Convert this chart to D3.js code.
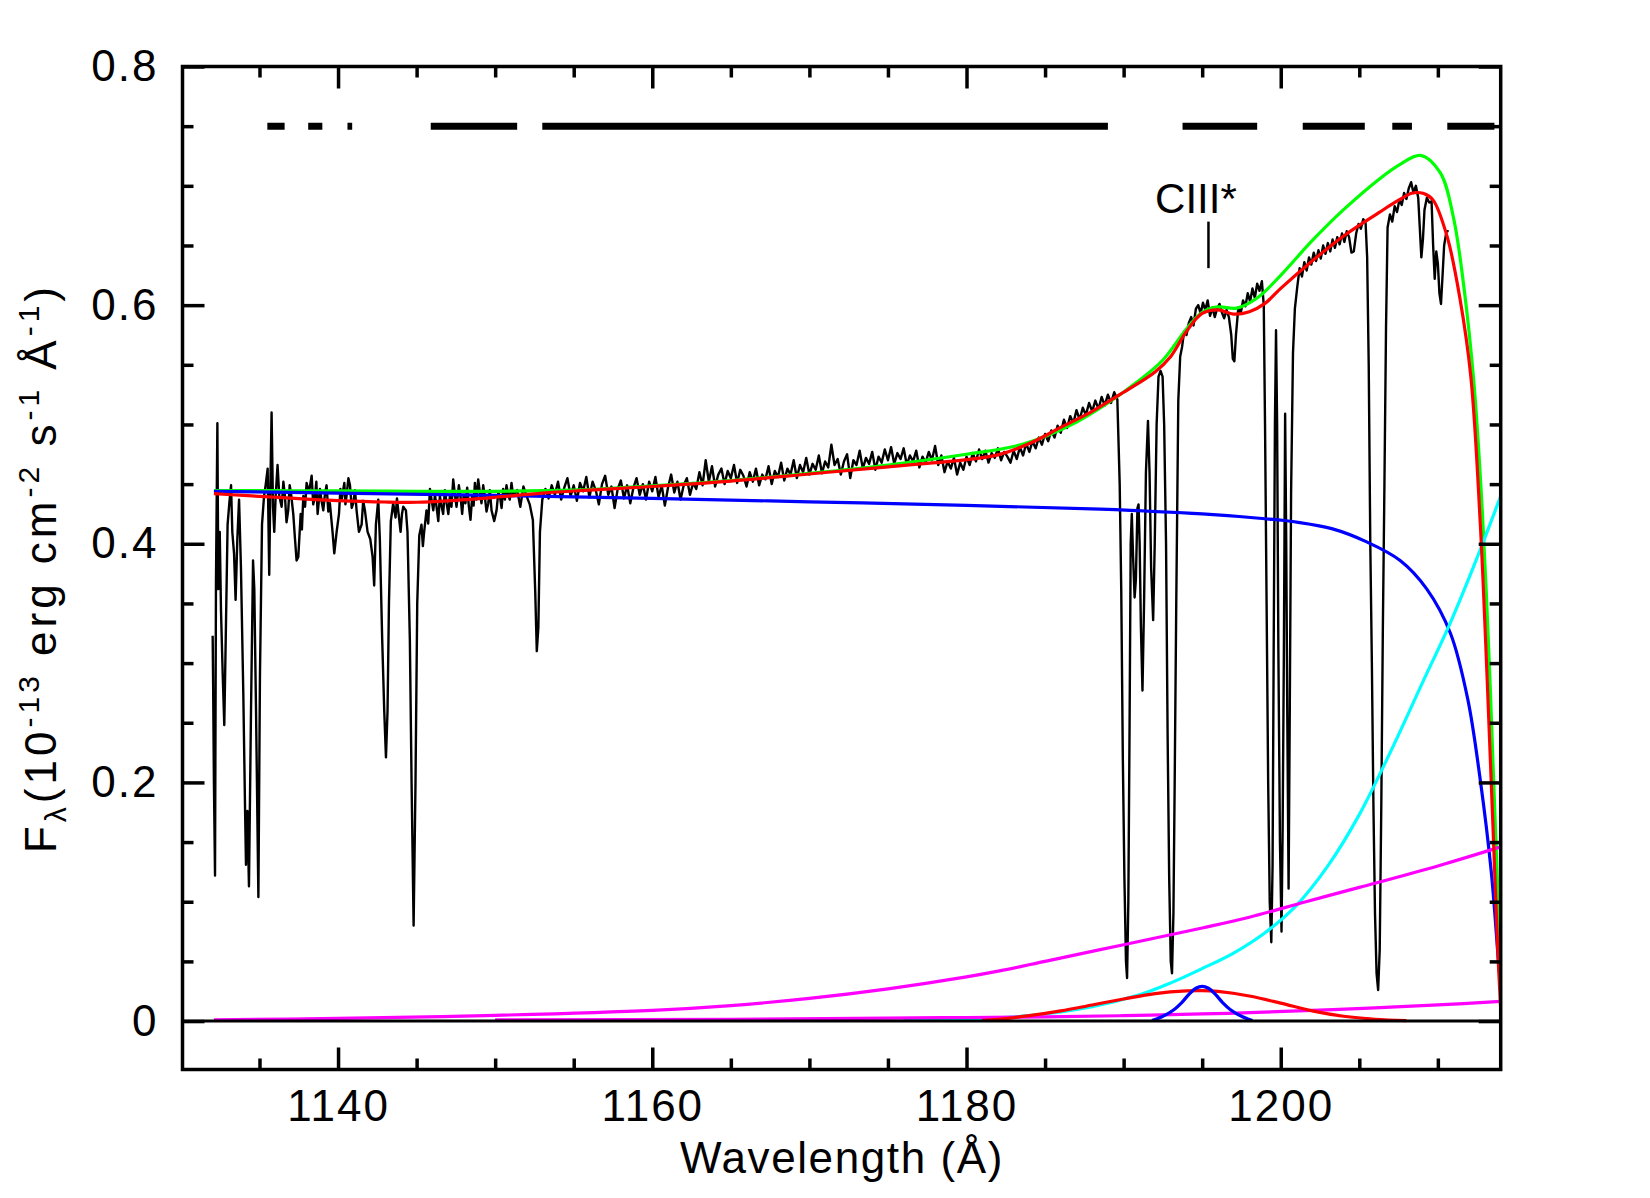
<!DOCTYPE html>
<html>
<head>
<meta charset="utf-8">
<script src="https://cdn.jsdelivr.net/npm/d3@7"></script>
<style>
  body { margin: 0; background: #fff; }
  svg { display: block; }
</style>
</head>
<body>
<div id="chart"></div>
<script>
// observed spectrum [wavelength (A), flux]
const spectrum = [
  [1132.02,.323],[1132.05,.281],[1132.10,.20],[1132.17,.122],[1132.23,.368],[1132.32,.501],[1132.38,.362],[1132.47,.41],
  [1132.55,.344],[1132.66,.29],[1132.76,.248],[1132.87,.335],[1132.97,.416],[1133.08,.434],[1133.19,.449],[1133.27,.41],
  [1133.38,.392],[1133.48,.353],[1133.59,.404],[1133.70,.437],[1133.82,.38],[1133.97,.275],[1134.08,.179],[1134.14,.131],
  [1134.23,.176],[1134.33,.113],[1134.46,.26],[1134.59,.386],[1134.67,.362],[1134.78,.26],[1134.93,.104],[1135.03,.29],
  [1135.16,.416],[1135.29,.44],[1135.39,.449],[1135.52,.463],[1135.62,.374],[1135.69,.446],[1135.77,.51],[1135.86,.431],
  [1135.94,.41],[1136.03,.44],[1136.15,.466],[1136.26,.44],[1136.41,.431],[1136.52,.452],[1136.62,.44],[1136.72,.418],
  [1136.83,.428],[1136.92,.449],[1137.00,.443],[1137.15,.425],[1137.26,.404],[1137.36,.386],[1137.47,.389],[1137.62,.425],
  [1137.70,.412],[1137.79,.44],[1137.90,.431],[1138.00,.451],[1138.15,.443],[1138.32,.457],[1138.42,.433],[1138.53,.44],
  [1138.62,.452],[1138.70,.425],[1138.85,.446],[1138.95,.436],[1139.06,.428],[1139.17,.442],[1139.27,.449],[1139.38,.427],
  [1139.48,.434],[1139.65,.41],[1139.76,.392],[1139.91,.41],[1140.06,.425],[1140.15,.446],[1140.23,.437],[1140.40,.451],
  [1140.47,.433],[1140.54,.44],[1140.66,.455],[1140.76,.449],[1140.87,.430],[1140.97,.434],[1141.08,.445],[1141.18,.428],
  [1141.33,.41],[1141.50,.416],[1141.60,.436],[1141.71,.428],[1141.88,.41],[1142.05,.404],[1142.20,.389],[1142.30,.365],
  [1142.41,.416],[1142.56,.437],[1142.66,.404],[1142.81,.32],[1142.94,.26],[1143.05,.221],[1143.15,.26],[1143.24,.35],
  [1143.36,.419],[1143.51,.434],[1143.66,.422],[1143.75,.438],[1143.83,.428],[1143.98,.41],[1144.07,.425],[1144.15,.431],
  [1144.32,.428],[1144.42,.41],[1144.57,.32],[1144.68,.2],[1144.81,.08],[1144.93,.2],[1145.04,.35],[1145.17,.407],
  [1145.31,.416],[1145.40,.398],[1145.48,.41],[1145.63,.428],[1145.74,.417],[1145.85,.446],[1145.95,.437],[1146.06,.428],
  [1146.17,.441],[1146.27,.431],[1146.38,.419],[1146.48,.44],[1146.58,.432],[1146.69,.425],[1146.80,.445],[1146.91,.434],
  [1147.02,.425],[1147.12,.44],[1147.22,.431],[1147.33,.454],[1147.43,.442],[1147.54,.431],[1147.69,.449],[1147.80,.439],
  [1147.90,.425],[1148.00,.441],[1148.11,.434],[1148.22,.447],[1148.33,.431],[1148.43,.420],[1148.54,.44],[1148.63,.432],
  [1148.71,.451],[1148.81,.437],[1148.92,.454],[1149.03,.443],[1149.13,.434],[1149.24,.449],[1149.34,.44],[1149.45,.427],
  [1149.56,.434],[1149.66,.445],[1149.77,.428],[1149.94,.419],[1150.09,.428],[1150.20,.443],[1150.30,.44],[1150.41,.430],
  [1150.51,.446],[1150.62,.437],[1150.72,.449],[1150.83,.441],[1150.93,.437],[1151.04,.451],[1151.15,.44],
  [1151.4,.445],[1151.6,.431],[1151.8,.448],[1152.0,.440],[1152.2,.433],[1152.4,.42],[1152.55,.36],[1152.65,.31],
  [1152.75,.33],[1152.85,.41],[1153.0,.437],
  [1153.2,.446],[1153.4,.438],[1153.6,.449],[1153.8,.441],[1154.0,.452],[1154.2,.437],[1154.4,.447],[1154.6,.455],
  [1154.8,.440],[1155.0,.449],[1155.2,.436],[1155.4,.451],[1155.6,.444],[1155.8,.456],[1156.0,.439],[1156.2,.452],
  [1156.4,.445],[1156.6,.433],[1156.8,.450],[1157.0,.457],[1157.2,.441],[1157.4,.448],[1157.6,.430],[1157.8,.446],
  [1158.0,.453],[1158.2,.438],[1158.4,.449],[1158.6,.434],[1158.8,.447],[1159.0,.455],[1159.2,.441],[1159.4,.450],
  [1159.6,.437],[1159.8,.452],[1160.0,.444],[1160.2,.456],[1160.4,.439],[1160.6,.449],[1160.8,.432],[1161.0,.447],
  [1161.2,.458],[1161.4,.443],[1161.6,.452],[1161.8,.437],[1162.0,.449],[1162.2,.455],[1162.4,.441],[1162.6,.451],
  [1162.8,.446],[1163.0,.460],[1163.2,.449],[1163.4,.470],[1163.6,.452],[1163.8,.465],[1164.0,.448],[1164.2,.458],
  [1164.4,.463],[1164.6,.450],[1164.8,.461],[1165.0,.455],[1165.2,.466],[1165.4,.451],[1165.6,.462],[1165.8,.457],
  [1166.0,.448],[1166.2,.460],[1166.4,.452],[1166.6,.463],[1166.8,.449],[1167.0,.458],[1167.2,.454],[1167.4,.465],
  [1167.6,.450],[1167.8,.461],[1168.0,.456],[1168.2,.468],[1168.4,.453],[1168.6,.463],[1168.8,.458],[1169.0,.470],
  [1169.2,.455],[1169.4,.466],[1169.6,.460],[1169.8,.472],[1170.0,.458],[1170.2,.467],[1170.4,.462],[1170.6,.474],
  [1170.8,.459],[1171.0,.469],[1171.2,.464],[1171.4,.483],[1171.6,.466],[1171.8,.471],[1172.0,.458],[1172.2,.469],
  [1172.4,.475],[1172.6,.455],[1172.8,.470],[1173.0,.466],[1173.2,.478],[1173.4,.463],[1173.6,.472],[1173.8,.467],
  [1174.0,.477],[1174.2,.462],[1174.4,.473],[1174.6,.468],[1174.8,.479],[1175.0,.470],[1175.2,.481],[1175.4,.467],
  [1175.6,.476],[1175.8,.471],[1176.0,.480],[1176.2,.466],[1176.4,.474],[1176.6,.469],[1176.8,.478],[1177.0,.464],
  [1177.2,.473],[1177.4,.468],[1177.6,.477],[1177.8,.470],[1178.0,.482],[1178.2,.466],[1178.4,.474],[1178.6,.460],
  [1178.8,.469],[1179.0,.463],[1179.2,.472],[1179.4,.458],[1179.6,.468],[1179.8,.462],[1180.0,.473],[1180.2,.466],
  [1180.4,.476],[1180.6,.469],[1180.8,.479],[1181.0,.471],[1181.2,.478],[1181.4,.468],[1181.6,.476],[1181.8,.472],
  [1182.0,.480],[1182.2,.470],[1182.4,.477],[1182.6,.473],[1182.8,.468],[1183.0,.478],[1183.2,.471],[1183.4,.481],
  [1183.6,.474],[1183.8,.484],[1184.0,.477],[1184.2,.486],[1184.4,.480],[1184.6,.489],[1184.8,.483],[1185.0,.492],
  [1185.2,.486],[1185.4,.495],[1185.6,.489],[1185.8,.499],[1186.0,.493],[1186.2,.504],[1186.4,.497],[1186.6,.507],
  [1186.8,.501],[1187.0,.512],[1187.2,.504],[1187.4,.514],[1187.6,.508],[1187.8,.518],[1188.0,.511],[1188.2,.520],
  [1188.4,.513],[1188.6,.523],[1188.8,.516],[1189.0,.525],[1189.2,.518],[1189.4,.527],[1189.6,.521],
  [1189.75,.45],[1189.85,.36],[1189.95,.22],[1190.05,.12],[1190.15,.05],[1190.22,.036],[1190.30,.10],[1190.38,.25],
  [1190.45,.40],[1190.52,.425],[1190.60,.39],[1190.70,.355],[1190.78,.37],[1190.88,.43],[1190.95,.433],[1191.02,.40],
  [1191.10,.33],[1191.20,.277],[1191.30,.35],[1191.42,.46],[1191.55,.503],[1191.65,.46],[1191.75,.38],[1191.88,.336],
  [1191.98,.40],[1192.10,.50],[1192.22,.540],[1192.35,.545],[1192.48,.540],[1192.58,.500],[1192.70,.40],[1192.80,.24],
  [1192.90,.12],[1193.00,.05],[1193.08,.04],[1193.17,.09],[1193.25,.20],[1193.35,.35],[1193.48,.52],[1193.60,.557],
  [1193.72,.565],[1193.85,.578],[1194.00,.575],[1194.15,.585],[1194.30,.590],[1194.45,.583],[1194.60,.597],[1194.75,.600],
  [1194.90,.593],[1195.05,.602],[1195.20,.596],[1195.35,.604],[1195.50,.591],[1195.65,.598],[1195.80,.590],[1195.95,.597],
  [1196.10,.601],[1196.25,.594],[1196.40,.589],[1196.55,.596],[1196.70,.590],[1196.85,.575],[1196.95,.555],[1197.05,.553],
  [1197.15,.575],[1197.30,.598],[1197.45,.593],[1197.60,.604],[1197.75,.599],[1197.90,.610],[1198.05,.603],[1198.20,.614],
  [1198.35,.606],[1198.50,.618],[1198.65,.612],[1198.80,.620],[1198.92,.60],[1199.00,.50],[1199.10,.35],[1199.20,.20],
  [1199.30,.10],[1199.40,.066],[1199.48,.13],[1199.55,.31],[1199.63,.50],[1199.70,.579],[1199.77,.50],[1199.85,.31],
  [1199.95,.15],[1200.05,.075],[1200.12,.16],[1200.20,.31],[1200.28,.509],[1200.35,.40],[1200.42,.25],[1200.50,.111],
  [1200.57,.25],[1200.66,.444],[1200.78,.56],[1200.90,.597],[1201.05,.615],[1201.20,.631],[1201.35,.624],[1201.50,.636],
  [1201.65,.629],[1201.80,.640],[1201.95,.634],[1202.10,.644],[1202.25,.637],[1202.40,.646],[1202.55,.639],[1202.70,.650],
  [1202.85,.643],[1203.00,.652],[1203.15,.645],[1203.30,.655],[1203.45,.648],[1203.60,.657],[1203.75,.651],[1203.90,.660],
  [1204.05,.653],[1204.20,.662],[1204.35,.657],[1204.50,.644],[1204.65,.645],[1204.80,.660],[1204.95,.668],[1205.10,.664],
  [1205.25,.672],[1205.40,.669],[1205.50,.640],[1205.60,.55],[1205.70,.40],[1205.80,.30],[1205.90,.18],[1206.00,.09],
  [1206.10,.04],[1206.20,.026],[1206.30,.06],[1206.40,.18],[1206.50,.33],[1206.60,.45],[1206.70,.58],[1206.80,.665],
  [1206.95,.676],[1207.10,.670],[1207.25,.683],[1207.40,.678],[1207.55,.688],[1207.70,.684],[1207.85,.694],[1208.00,.689],
  [1208.15,.698],[1208.30,.703],[1208.45,.694],[1208.60,.700],[1208.75,.690],[1208.85,.665],[1208.95,.640],[1209.05,.655],
  [1209.15,.680],[1209.30,.690],[1209.45,.686],[1209.60,.687],[1209.70,.650],[1209.80,.622],[1209.90,.645],[1210.00,.635],
  [1210.10,.610],[1210.20,.601],[1210.30,.625],[1210.40,.650],[1210.55,.662],[1210.69,.662]
];

// model components [wavelength, flux]
const totalModel = [
  [1132.1,.4420],[1134,.4405],[1136,.4390],[1138,.4375],[1140,.4362],[1143,.4350],[1145,.4348],[1147,.4360],
  [1150,.4390],[1153,.4425],[1156,.4450],[1160,.4480],[1165,.4525],[1170,.4585],[1175,.4645],[1180,.4705],
  [1182,.4745],[1184,.4840],[1186,.4975],[1188,.5110],[1190,.5270],[1192,.5440],[1193,.5570],[1194,.5780],
  [1195,.5930],[1196,.5960],[1197,.5925],[1198,.5945],[1199,.6015],[1200,.6140],[1202,.6370],[1204,.6580],
  [1206.3,.6780],[1207.5,.6880],[1208.4,.6940],[1209.1,.6935],[1209.7,.6880],[1210.6,.6570],[1211.4,.6060],
  [1212.1,.5400],[1212.7,.4170],[1213.15,.2830],[1213.5,.1660],[1213.8,.0630],[1214.0,.0100]
];
const unabsorbedModel = [
  [1132.1,.4445],[1136,.4445],[1140,.4443],[1145,.4440],[1150,.4440],[1153,.4445],[1156,.4455],[1160,.4485],
  [1165,.4530],[1170,.4590],[1175,.4660],[1180,.4750],[1183,.4815],[1185,.4900],[1187,.5020],[1189,.5180],
  [1191,.5370],[1192.5,.5540],[1194,.5800],[1195,.5940],[1196,.5985],[1197.2,.5975],[1198.5,.6060],[1200,.6250],
  [1202,.6540],[1204,.6800],[1206.3,.7060],[1207.6,.7180],[1208.9,.7255],[1210.15,.7110],[1211.0,.6730],
  [1211.65,.6160],[1212.3,.5340],[1212.83,.4270],[1213.26,.3040],[1213.58,.1910],[1213.8,.1140],[1214.0,.0400]
];
const powerLaw = [
  [1132.1,.4440],[1140,.4425],[1150,.4405],[1160,.4380],[1170,.4352],[1180,.4322],[1188.5,.4290],[1195,.4250],
  [1199,.4210],[1201.1,.4180],[1203.3,.4125],[1205.4,.4020],[1207.6,.3860],[1209.3,.3620],[1210.8,.3250],
  [1211.9,.2700],[1212.7,.2020],[1213.4,.1250],[1213.9,.0430],[1214.0,.0300]
];
const hotComponent = [
  [1176,.0005],[1180,.0015],[1184,.0045],[1188,.0120],[1191,.0220],[1193,.0320],[1195,.0440],[1197,.0570],
  [1199,.0740],[1201,.0970],[1203,.1300],[1205,.1730],[1207,.2260],[1209,.2830],[1210.8,.3340],[1212.4,.3850],
  [1214.0,.4400]
];
const warmComponent = [
  [1132.1,.0010],[1140,.0022],[1150,.0048],[1160,.0090],[1165,.0130],[1170,.0190],[1175,.0270],[1180,.0370],
  [1182.1,.0420],[1185,.0500],[1190,.0640],[1195,.0780],[1198,.0870],[1201.6,.1000],[1205,.1120],[1210,.1300],
  [1214,.1460]
];
const weakComponent = [
  [1150,.0010],[1165,.0015],[1175,.0025],[1180,.0030],[1185,.0035],[1190,.0045],[1195,.0060],[1198,.0070],
  [1202,.0090],[1206,.0110],[1210,.0135],[1214,.0165]
];
const broadLine = [
  [1181,.0005],[1182,.0015],[1184,.0045],[1186,.0085],[1188,.0135],[1190,.0185],[1192,.0230],[1194,.0253],
  [1195,.0255],[1196,.0248],[1198,.0210],[1200,.0150],[1202,.0085],[1204,.0040],[1206,.0015],[1208,.0004]
];
const narrowLine = [
  [1191.8,.0005],[1192.5,.0040],[1193.2,.0095],[1193.7,.0155],[1194.2,.0230],[1194.6,.0275],[1195.0,.0290],
  [1195.4,.0275],[1195.8,.0230],[1196.3,.0155],[1196.8,.0095],[1197.5,.0040],[1198.2,.0005]
];

// wavelength ranges used in the fit (bar at top)
const fitRanges = [
  [1135.5,1136.6],[1138.1,1139.0],[1140.6,1140.9],[1145.9,1151.4],[1153.0,1189.0],
  [1193.75,1198.5],[1201.4,1205.35],[1207.1,1208.35],[1210.6,1213.6]
];

const xMajorTicks = [1140, 1160, 1180, 1200];
const xMinorTicks = [1135, 1145, 1150, 1155, 1165, 1170, 1175, 1185, 1190, 1195, 1205, 1210];
const yMajorTicks = [0, 0.2, 0.4, 0.6, 0.8];
const yMinorTicks = [0.05, 0.1, 0.15, 0.25, 0.3, 0.35, 0.45, 0.5, 0.55, 0.65, 0.7, 0.75];
const yTickLabels = ["0", "0.2", "0.4", "0.6", "0.8"];

const margin = { top: 66.5, right: 149.3, bottom: 128.5, left: 182.5 };
const width = 1650 - margin.left - margin.right;
const height = 1198 - margin.top - margin.bottom;
const font = '"Liberation Sans", Arial, sans-serif';

const x = d3.scaleLinear().domain([1130.1, 1214.0]).range([0, width]);
const y = d3.scaleLinear().domain([-0.0406, 0.8]).range([height, 0]);

const svg = d3.select('#chart')
    .append('svg')
    .attr('width', 1650)
    .attr('height', 1198)
    .append('g')
    .attr('transform', `translate(${margin.left}, ${margin.top})`);

svg.append('clipPath').attr('id', 'clip')
    .append('rect').attr('width', width).attr('height', height);

const plot = svg.append('g').attr('clip-path', 'url(#clip)');

const smooth = d3.line().x(d => x(d[0])).y(d => y(d[1])).curve(d3.curveCatmullRom.alpha(0.5));
const straight = d3.line().x(d => x(d[0])).y(d => y(d[1]));

// observed spectrum
plot.append('path').datum(spectrum)
    .attr('d', straight)
    .attr('fill', 'none').attr('stroke', '#000').attr('stroke-width', 2.4)
    .attr('stroke-linejoin', 'round');

// model curves
const curves = [
    { data: unabsorbedModel, color: '#00ff00' },
    { data: powerLaw, color: '#0000ff' },
    { data: hotComponent, color: '#00ffff' },
    { data: warmComponent, color: '#ff00ff' },
    { data: weakComponent, color: '#ff00ff' },
    { data: broadLine, color: '#ff0000' },
    { data: narrowLine, color: '#0000ff' },
    { data: totalModel, color: '#ff0000' }
];
curves.forEach(c => {
    plot.append('path').datum(c.data)
        .attr('d', smooth)
        .attr('fill', 'none')
        .attr('stroke', c.color)
        .attr('stroke-width', 3.2);
});

// zero line
plot.append('line')
    .attr('x1', 0).attr('x2', width)
    .attr('y1', y(0)).attr('y2', y(0))
    .attr('stroke', '#000').attr('stroke-width', 3);

// fit ranges
plot.selectAll('.range')
    .data(fitRanges)
    .join('line')
    .attr('class', 'range')
    .attr('x1', d => x(d[0])).attr('x2', d => x(d[1]))
    .attr('y1', y(0.75)).attr('y2', y(0.75))
    .attr('stroke', '#000').attr('stroke-width', 7);

// CIII* marker
svg.append('line')
    .attr('x1', x(1195.4)).attr('x2', x(1195.4))
    .attr('y1', y(0.670)).attr('y2', y(0.631))
    .attr('stroke', '#000').attr('stroke-width', 2.5);
svg.append('text')
    .attr('x', x(1194.6)).attr('y', y(0.677))
    .attr('text-anchor', 'middle')
    .attr('font-family', font).attr('font-size', 42)
    .text('CIII*');

// axes: ticks on all four sides, pointing inward
function drawAxis(axis, transform, labels) {
    const g = svg.append('g')
        .attr('transform', transform)
        .call(axis);
    g.select('.domain').remove();
    g.selectAll('line').attr('stroke', '#000').attr('stroke-width', 3.5);
    g.attr('font-family', font).attr('font-size', 44);
    g.selectAll('text').attr('fill', '#000').attr('letter-spacing', 2);
    if (!labels) g.selectAll('text').remove();
    return g;
}

drawAxis(d3.axisBottom(x).tickValues(xMajorTicks).tickSize(-22).tickPadding(20).tickFormat(d3.format('d')),
    `translate(0, ${height})`, true);
drawAxis(d3.axisBottom(x).tickValues(xMinorTicks).tickSize(-11), `translate(0, ${height})`, false);
drawAxis(d3.axisTop(x).tickValues(xMajorTicks).tickSize(-22), 'translate(0, 0)', false);
drawAxis(d3.axisTop(x).tickValues(xMinorTicks).tickSize(-11), 'translate(0, 0)', false);
drawAxis(d3.axisLeft(y).tickValues(yMajorTicks).tickSize(-22).tickPadding(24)
    .tickFormat((d, i) => yTickLabels[i]), 'translate(0, 0)', true);
drawAxis(d3.axisLeft(y).tickValues(yMinorTicks).tickSize(-11), 'translate(0, 0)', false);
drawAxis(d3.axisRight(y).tickValues(yMajorTicks).tickSize(-22), `translate(${width}, 0)`, false);
drawAxis(d3.axisRight(y).tickValues(yMinorTicks).tickSize(-11), `translate(${width}, 0)`, false);

// frame
svg.append('rect')
    .attr('width', width).attr('height', height)
    .attr('fill', 'none').attr('stroke', '#000').attr('stroke-width', 3.5);

// axis titles
svg.append('text')
    .attr('x', 842 - margin.left).attr('y', 1173 - margin.top)
    .attr('text-anchor', 'middle')
    .attr('font-family', font).attr('font-size', 44).attr('letter-spacing', 1.6)
    .text('Wavelength (Å)');

const ylab = svg.append('text')
    .attr('transform', `translate(${56 - margin.left}, ${568 - margin.top}) rotate(-90)`)
    .attr('text-anchor', 'middle')
    .attr('font-family', font).attr('font-size', 44).attr('letter-spacing', 4);
ylab.append('tspan').text('F');
ylab.append('tspan').attr('font-size', 30).attr('dy', 10).text('λ');
ylab.append('tspan').attr('dy', -10).text('(10');
ylab.append('tspan').attr('font-size', 30).attr('dy', -17).text('-13');
ylab.append('tspan').attr('dy', 17).text(' erg cm');
ylab.append('tspan').attr('font-size', 30).attr('dy', -17).text('-2');
ylab.append('tspan').attr('dy', 17).text(' s');
ylab.append('tspan').attr('font-size', 30).attr('dy', -17).text('-1');
ylab.append('tspan').attr('dy', 17).text(' Å');
ylab.append('tspan').attr('font-size', 30).attr('dy', -17).text('-1');
ylab.append('tspan').attr('dy', 17).text(')');
</script>
</body>
</html>
